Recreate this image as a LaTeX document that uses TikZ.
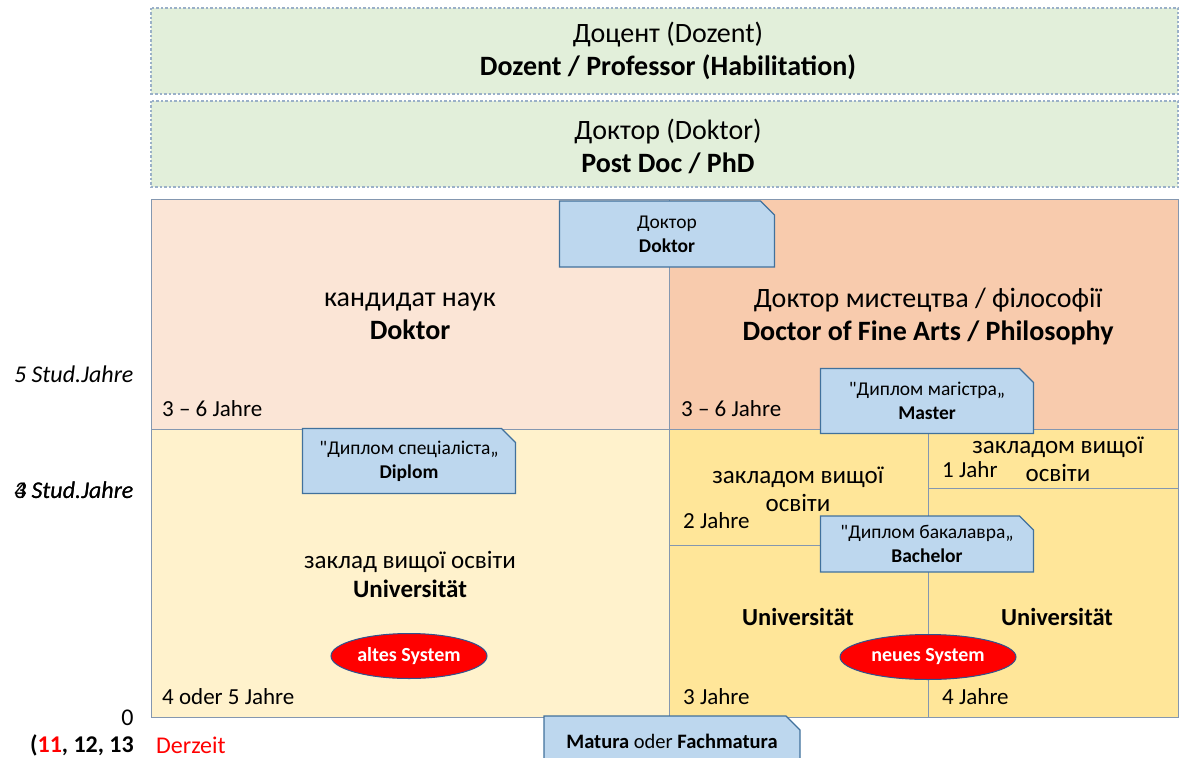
\documentclass[tikz,border=0pt]{standalone}
\usepackage{fontspec}
\setmainfont{Carlito}
\usepackage{xcolor}
\usetikzlibrary{positioning,
                shapes.geometric,
                shapes.misc}

\definecolor{habgreen}{HTML}{E2EFDA}
\definecolor{dotblue}{HTML}{9AB0C8}
\definecolor{docpink}{HTML}{FBE5D6}
\definecolor{docsalmon}{HTML}{F8CBAD}
\definecolor{unicream}{HTML}{FFF2CC}
\definecolor{unigold}{HTML}{FFE699}
\definecolor{diplblue}{HTML}{BDD7EE}
\definecolor{diplline}{HTML}{41719C}
\definecolor{framegray}{HTML}{8497B0}
\definecolor{ovalline}{HTML}{2F528F}

\begin{document}
\begin{tikzpicture}[x=1pt,y=-1pt,
  big/.style={align=center,font=\fontsize{28}{33}\selectfont},
  mid/.style={align=center,font=\fontsize{25}{28}\selectfont},
  yrs/.style={right,font=\fontsize{23}{25}\selectfont},
  stud/.style={left,font=\itshape\fontsize{24}{26}\selectfont},
  diplbox/.style={chamfered rectangle,chamfered rectangle corners=north east,
    chamfered rectangle xsep=7pt,chamfered rectangle ysep=7pt,
    draw=diplline,fill=diplblue,line width=1.2pt,align=center,
    font=\fontsize{19.5}{24}\selectfont,inner sep=0pt,
    minimum width=213pt,minimum height=65pt},
  sysoval/.style={ellipse,fill=red,draw=ovalline,line width=1pt,text=white,
    font=\bfseries\fontsize{20}{22}\selectfont,minimum height=45pt,inner sep=0pt},
  cell/.style={draw=framegray,line width=1pt}]
\useasboundingbox (0,0) rectangle (1182,757);
\clip (0,0) rectangle (1182,757);

% Doktor levels above
\foreach \t in {8,101}
  \filldraw[fill=habgreen,draw=dotblue,line width=1.5pt,dash pattern=on 2.5pt off 2pt]
    (151,\t) rectangle (1178,\t+86);
\node[big] (dozent) at (668,51) {Доцент (Dozent)\\\textbf{Dozent / Professor (Habilitation)}};
\node[big] (postdoc) at (668,146) {Доктор (Doktor)\\\textbf{Post Doc / PhD}};

% areas
\filldraw[cell,fill=docpink]   (151,199) rectangle (669,429);
\filldraw[cell,fill=docsalmon] (669,199) rectangle (1178,429);
\filldraw[cell,fill=unicream]  (151,429) rectangle (669,717);
\filldraw[cell,fill=unigold]   (669,429) rectangle (1178,717);
\draw[cell] (928,429) -- (928,717);
\draw[cell] (669,545) -- (928,545);
\draw[cell] (928,488) -- (1178,488);

\node[big] (kandidat) at (410,316) {кандидат наук\\\textbf{Doktor}};
\node[big] (fineart) at (928,316) {Доктор мистецтва / філософії\\\textbf{Doctor of Fine Arts / Philosophy}};
\node[big,font=\fontsize{25}{29}\selectfont] (zaklad) at (410,574) {заклад вищої освіти\\\textbf{Universität}};
\node[mid] (zakl2) at (798,489) {закладом вищої\\освіти};
\node[mid] (zakl1) at (1058,459) {закладом вищої\\освіти};
\node[mid,font=\bfseries\fontsize{24.5}{28}\selectfont] (uni3) at (798,617) {Universität};
\node[mid,font=\bfseries\fontsize{24.5}{28}\selectfont] (uni4) at (1057,617) {Universität};

\foreach \x/\y/\t in {162/409/3 -- 6 Jahre, 681/409/3 -- 6 Jahre, 162/697/4 oder 5 Jahre,
                     683/521/2 Jahre, 942/470/1 Jahr, 683/697/3 Jahre, 942/697/4 Jahre}
  \node[yrs,inner sep=0pt] at (\x,\y) {\t};

\node[sysoval,minimum width=156pt] (altes) at (409,656) {altes System};
\node[sysoval,minimum width=176pt] (neues) at (928,657) {neues System};

% diplomas
\node[diplbox,minimum width=215pt,minimum height=66pt] (dokt) at (667,234) {Доктор\\\textbf{Doktor}};
\node[diplbox] (master) at (927,401) {\textquotedbl Диплом магістра„\\\textbf{Master}};
\node[diplbox] (diplom) at (409,461) {\textquotedbl Диплом спеціаліста„\\\textbf{Diplom}};
\node[diplbox,minimum height=56pt] (bach) at (927,544) {\textquotedbl Диплом бакалавра„\\\textbf{Bachelor}};
\node[diplbox,minimum width=256pt,minimum height=50pt,font=\fontsize{20.5}{24}\selectfont] (matura) at (672,741)
  {\textbf{Matura} oder \textbf{Fachmatura}};

% school years
\node[stud] (five) at (137,374) {5 Stud.Jahre};
\node[stud] (four) at (137,490) {4 Stud.Jahre};
\node[stud] (three) at (137,490) {3 Stud.Jahre};
\node[left,font=\fontsize{24}{26}\selectfont] (zero) at (137,718) {0};
\node[left,inner sep=1pt,font=\bfseries\fontsize{24}{26}\selectfont] (klasse) at (135,745)
  {(\textcolor{red}{11}, 12, 13};
\node[right,inner sep=1pt,text=red,font=\fontsize{24}{26}\selectfont] (derzeit) at (155,745) {Derzeit};
\end{tikzpicture}
\end{document}
